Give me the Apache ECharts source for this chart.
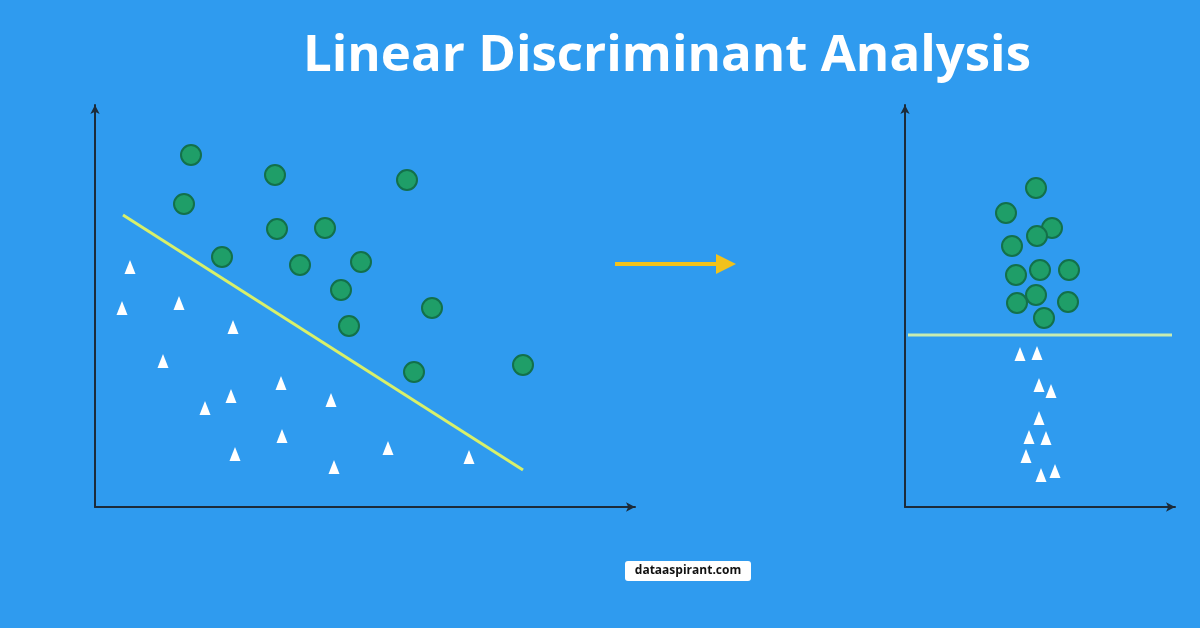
<!DOCTYPE html><html><head><meta charset="utf-8"><script src="https://cdn.jsdelivr.net/npm/echarts@6/dist/echarts.min.js"></script></head><body style="margin:0"><div id="c" style="width:1200px;height:628px"></div><script>
const leftCircles=[[96,352],[180,332],[312,327],[89,303],[182,278],[230,279],[127,250],[205,242],[266,245],[246,217],[337,199],[254,181],[319,135],[428,142]];
const leftTriangles=[[35,240],[27,199],[84,204],[138,180],[68,146],[186,124],[136,111],[110,99],[236,107],[187,71],[140,53],[239,40],[293,59],[374,50]];
const leftLine=[[28,292],[428,37]];
const rightCircles=[[131,319],[101,294],[147,279],[132,271],[107,261],[135,237],[111,232],[164,237],[131,212],[112,204],[163,205],[139,189]];
const rightTriangles=[[115,153],[132,154],[134,122],[146,116],[134,89],[124,70],[141,69],[121,51],[136,32],[150,36]];
const rightLine=[[3,172],[267,172]];
const title='Linear Discriminant Analysis';
const ax=(i,max)=>({gridIndex:i,min:0,max:max,splitLine:{show:false},axisTick:{show:false},axisLabel:{show:false},axisLine:{onZero:false,lineStyle:{color:'#1c2b3a',width:2},symbol:['none','arrow'],symbolSize:[7,9]}});
const circ={color:'#1f9e68',borderColor:'#13704a',borderWidth:2,opacity:1};
const tri={color:'#ffffff',opacity:1};
const chart=echarts.init(document.getElementById('c'));
chart.setOption({backgroundColor:'#2f9bef',animation:false,
title:{text:title,left:662,top:26,textAlign:'center',textStyle:{color:'#fff',fontSize:51,fontWeight:'bold',fontFamily:'Open Sans'}},
grid:[{left:95,top:105,width:540,height:402},{left:905,top:105,width:270,height:402}],
xAxis:[ax(0,540),ax(1,270)],yAxis:[ax(0,402),ax(1,402)],
series:[
{type:'line',xAxisIndex:0,yAxisIndex:0,data:leftLine,symbol:'none',lineStyle:{color:'#d8f06a',width:3}},
{type:'scatter',xAxisIndex:0,yAxisIndex:0,data:leftCircles,symbolSize:20,itemStyle:circ},
{type:'scatter',xAxisIndex:0,yAxisIndex:0,data:leftTriangles,symbol:'triangle',symbolSize:[11,14],itemStyle:tri},
{type:'line',xAxisIndex:1,yAxisIndex:1,data:rightLine,symbol:'none',lineStyle:{color:'#c8ecb0',width:3}},
{type:'scatter',xAxisIndex:1,yAxisIndex:1,data:rightCircles,symbolSize:20,itemStyle:circ},
{type:'scatter',xAxisIndex:1,yAxisIndex:1,data:rightTriangles,symbol:'triangle',symbolSize:[11,14],itemStyle:tri}
],
graphic:[
{type:'line',shape:{x1:615,y1:264,x2:722,y2:264},style:{stroke:'#f2c21b',lineWidth:4}},
{type:'polygon',shape:{points:[[716,254],[736,264],[716,274]]},style:{fill:'#f2c21b'}},
{type:'rect',shape:{x:625,y:561,width:126,height:20,r:3},style:{fill:'#fff'}},
{type:'text',x:688,y:571,style:{text:'dataaspirant.com',fill:'#111',font:'bold 12px Open Sans',align:'center',verticalAlign:'middle'}}
]});
</script></body></html>
